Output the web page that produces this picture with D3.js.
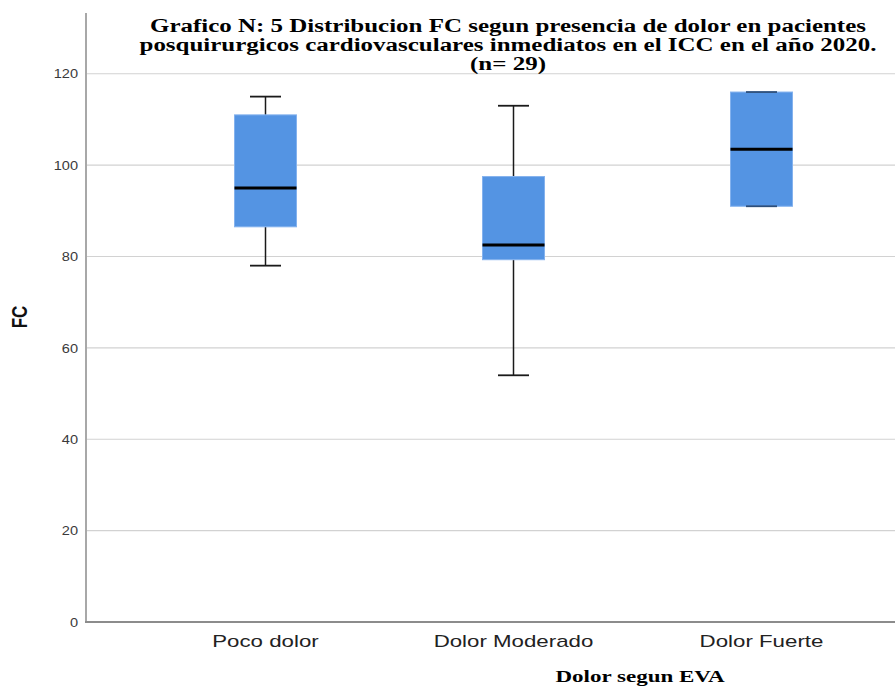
<!DOCTYPE html>
<html>
<head>
<meta charset="utf-8">
<script src="https://cdn.jsdelivr.net/npm/d3@7"></script>
<style>
  body { margin: 0; background: #ffffff; }
  text { font-family: "Liberation Sans", Arial, sans-serif; }
  .serif { font-family: "Liberation Serif", "Times New Roman", serif; font-weight: bold; }
</style>
</head>
<body>
<svg id="chart" width="895" height="687"></svg>
<script>
// Heart rate (FC) by pain level on the EVA scale: five-number summaries
const categories  = ["Poco dolor", "Dolor Moderado", "Dolor Fuerte"];
const whiskerLow  = [78, 54, 91];
const q1          = [86.5, 79.3, 91];
const median      = [95, 82.5, 103.5];
const q3          = [111, 97.5, 116];
const whiskerHigh = [115, 113, 116];
const yTicks      = [0, 20, 40, 60, 80, 100, 120];
const titleLines  = [
  "Grafico N: 5 Distribucion FC segun presencia de dolor en pacientes",
  "posquirurgicos cardiovasculares inmediatos en el ICC en el año 2020.",
  "(n= 29)"
];
const yTitle = "FC";
const xTitle = "Dolor segun EVA";

const svg = d3.select("#chart");
const W = 895;
const axisX = 86, axisBottom = 622, axisTop = 13;
const stretch = 1.31; // text in this layout is rendered wide

const y = d3.scaleLinear().domain([0, 133.3]).range([axisBottom, axisTop]);
const x = d3.scaleBand().domain(categories).range([141.5, 885.5]).padding(0);

// widen horizontal text by a factor of its natural width
function widen(sel, k) {
  sel.each(function () {
    const len = this.getComputedTextLength();
    d3.select(this).attr("textLength", len * k).attr("lengthAdjust", "spacingAndGlyphs");
  });
}

// gridlines
svg.append("g").selectAll("line")
  .data(yTicks.filter(t => t > 0))
  .join("line")
  .attr("x1", axisX).attr("x2", W)
  .attr("y1", d => y(d)).attr("y2", d => y(d))
  .attr("stroke", "#d2d2d2").attr("stroke-width", 1.2);

// y axis labels
const yAxis = svg.append("g")
  .attr("transform", `translate(${axisX},0)`)
  .call(d3.axisLeft(y).tickValues(yTicks).tickSize(0).tickPadding(8));
yAxis.select(".domain").remove();
yAxis.selectAll("text")
  .attr("font-size", 13)
  .attr("fill", "#3a3a3a")
  .style("font-family", "'Liberation Sans', Arial, sans-serif");
widen(yAxis.selectAll("text"), 1.12);

// axis lines
svg.append("line")
  .attr("x1", axisX).attr("x2", axisX)
  .attr("y1", axisTop).attr("y2", axisBottom)
  .attr("stroke", "#a8a8a8").attr("stroke-width", 2);
svg.append("line")
  .attr("x1", axisX - 1).attr("x2", W)
  .attr("y1", axisBottom).attr("y2", axisBottom)
  .attr("stroke", "#8c8c8c").attr("stroke-width", 2);

// boxes
const boxes = categories.map((c, i) => ({
  c, lo: whiskerLow[i], q1: q1[i], med: median[i], q3: q3[i], hi: whiskerHigh[i]
}));
const boxW = x.bandwidth() * 0.25;
const capW = boxW / 2;

const g = svg.append("g").selectAll("g")
  .data(boxes)
  .join("g")
  .attr("transform", d => `translate(${x(d.c) + x.bandwidth() / 2},0)`);

// whisker stems
g.append("line")
  .attr("x1", 0).attr("x2", 0)
  .attr("y1", d => y(d.hi)).attr("y2", d => y(d.q3))
  .attr("stroke", "#1a1a1a").attr("stroke-width", 1.5);
g.append("line")
  .attr("x1", 0).attr("x2", 0)
  .attr("y1", d => y(d.q1)).attr("y2", d => y(d.lo))
  .attr("stroke", "#1a1a1a").attr("stroke-width", 1.5);

// box body
g.append("rect")
  .attr("x", -boxW / 2).attr("width", boxW)
  .attr("y", d => y(d.q3))
  .attr("height", d => y(d.q1) - y(d.q3))
  .attr("fill", "#5494e3")
  .attr("stroke", "#84b2ee").attr("stroke-width", 1);

// whisker caps
g.append("line")
  .attr("x1", -capW / 2).attr("x2", capW / 2)
  .attr("y1", d => y(d.hi)).attr("y2", d => y(d.hi))
  .attr("stroke", d => d.hi === d.q3 ? "#2d4f7a" : "#1a1a1a").attr("stroke-width", 1.8);
g.append("line")
  .attr("x1", -capW / 2).attr("x2", capW / 2)
  .attr("y1", d => y(d.lo)).attr("y2", d => y(d.lo))
  .attr("stroke", d => d.lo === d.q1 ? "#2d4f7a" : "#1a1a1a").attr("stroke-width", 1.8);

// median
g.append("line")
  .attr("x1", -boxW / 2).attr("x2", boxW / 2)
  .attr("y1", d => y(d.med)).attr("y2", d => y(d.med))
  .attr("stroke", "#000").attr("stroke-width", 3);

// category labels
const catLabels = svg.append("g").selectAll("text")
  .data(categories)
  .join("text")
  .attr("x", d => x(d) + x.bandwidth() / 2)
  .attr("y", 647)
  .attr("text-anchor", "middle")
  .attr("font-size", 17)
  .attr("fill", "#222")
  .text(d => d);
widen(catLabels, stretch);

// title
const titleWidths = [716, 737, 76];
svg.append("g").selectAll("text")
  .data(titleLines)
  .join("text")
  .attr("class", "serif")
  .attr("x", 508)
  .attr("y", (d, i) => 31.5 + i * 19)
  .attr("text-anchor", "middle")
  .attr("font-size", 18)
  .attr("fill", "#000")
  .attr("textLength", (d, i) => titleWidths[i])
  .attr("lengthAdjust", "spacingAndGlyphs")
  .text(d => d);

// axis titles
const xt = svg.append("text")
  .attr("class", "serif")
  .attr("x", 640).attr("y", 682)
  .attr("text-anchor", "middle")
  .attr("font-size", 16)
  .attr("fill", "#000")
  .text(xTitle);
xt.attr("textLength", 169).attr("lengthAdjust", "spacingAndGlyphs");

svg.append("text")
  .attr("transform", `translate(27,317) scale(${stretch},1) rotate(-90)`)
  .attr("text-anchor", "middle")
  .attr("font-size", 17)
  .attr("font-weight", "bold")
  .attr("fill", "#111")
  .text(yTitle);
</script>
</body>
</html>
